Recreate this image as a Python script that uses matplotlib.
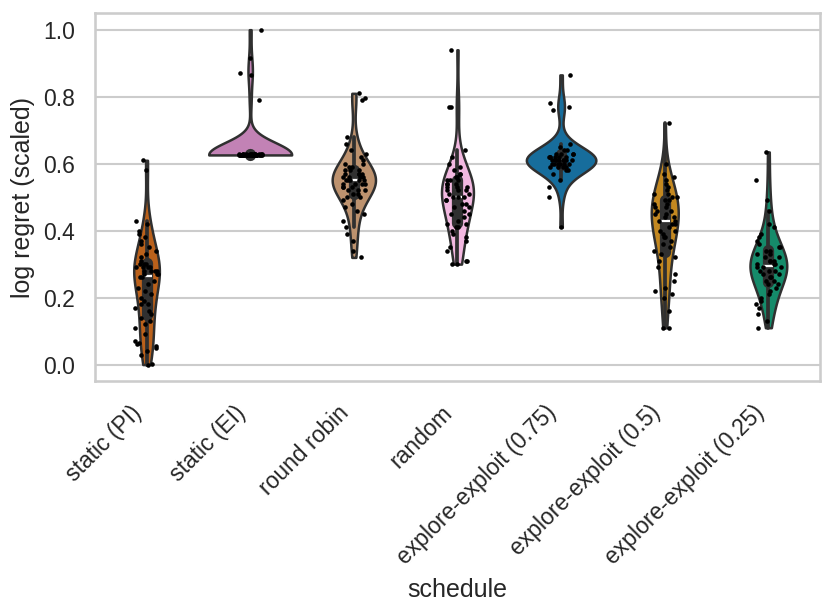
import numpy as np
import pandas as pd
import matplotlib
matplotlib.use("Agg")
import matplotlib.pyplot as plt
import seaborn as sns

# log regret (scaled) per schedule
static_pi = [0.0, 0.003, 0.03, 0.04, 0.05, 0.055, 0.06, 0.065, 0.07, 0.09, 0.11, 0.12, 0.13, 0.14,
             0.15, 0.16, 0.17, 0.18, 0.18, 0.19, 0.2, 0.21, 0.22, 0.23, 0.24, 0.25, 0.26, 0.26,
             0.27, 0.27, 0.27, 0.28, 0.28, 0.28, 0.28, 0.29, 0.29, 0.29, 0.29, 0.3, 0.3, 0.3,
             0.31, 0.32, 0.33, 0.34, 0.35, 0.36, 0.37, 0.38, 0.39, 0.4, 0.42, 0.43, 0.58, 0.61]
static_ei = [0.626, 0.627, 0.627, 0.628, 0.626, 0.627, 0.628, 0.627, 0.626, 0.627, 0.628, 0.627,
             0.627, 0.626, 0.628, 0.627, 0.627, 0.628, 0.626, 0.627, 0.627, 0.628, 0.627, 0.626,
             0.627, 0.628, 0.627, 0.627, 0.626, 0.628, 0.627, 0.627, 0.628, 0.626, 0.627, 0.627,
             0.628, 0.627, 0.626, 0.627, 0.628, 0.627, 0.627, 0.626, 0.628, 0.627, 0.627, 0.628,
             0.79, 0.865, 0.87, 0.915, 1.0]
round_robin = [0.32, 0.34, 0.37, 0.39, 0.41, 0.43, 0.45, 0.46, 0.47, 0.48, 0.49, 0.50, 0.50, 0.51,
               0.51, 0.52, 0.52, 0.52, 0.53, 0.53, 0.53, 0.54, 0.54, 0.54, 0.54, 0.55, 0.55, 0.55,
               0.55, 0.55, 0.56, 0.56, 0.56, 0.56, 0.57, 0.57, 0.57, 0.57, 0.58, 0.58, 0.58, 0.59,
               0.59, 0.60, 0.60, 0.61, 0.62, 0.63, 0.64, 0.66, 0.68, 0.79, 0.795, 0.81]
random_sched = [0.30, 0.30, 0.31, 0.31, 0.34, 0.35, 0.37, 0.38, 0.39, 0.40, 0.41, 0.41, 0.42, 0.42,
                0.43, 0.44, 0.45, 0.45, 0.46, 0.47, 0.47, 0.48, 0.48, 0.49, 0.49, 0.50, 0.50, 0.50,
                0.51, 0.51, 0.52, 0.52, 0.52, 0.53, 0.53, 0.53, 0.54, 0.54, 0.54, 0.55, 0.55, 0.55,
                0.56, 0.56, 0.57, 0.57, 0.58, 0.59, 0.60, 0.62, 0.64, 0.77, 0.77, 0.94]
ee_075 = [0.41, 0.50, 0.53, 0.55, 0.57, 0.58, 0.58, 0.59, 0.59, 0.59, 0.59, 0.60, 0.60, 0.60,
          0.60, 0.60, 0.60, 0.61, 0.61, 0.61, 0.61, 0.61, 0.61, 0.61, 0.61, 0.62, 0.62, 0.62,
          0.62, 0.62, 0.62, 0.63, 0.63, 0.63, 0.63, 0.64, 0.64, 0.65, 0.66, 0.76, 0.77, 0.78,
          0.865]
ee_05 = [0.11, 0.11, 0.16, 0.20, 0.21, 0.22, 0.23, 0.25, 0.27, 0.29, 0.31, 0.32, 0.33, 0.34,
         0.35, 0.36, 0.37, 0.38, 0.38, 0.39, 0.40, 0.40, 0.41, 0.42, 0.42, 0.43, 0.43, 0.44,
         0.44, 0.45, 0.45, 0.46, 0.46, 0.47, 0.47, 0.48, 0.48, 0.49, 0.49, 0.50, 0.50, 0.51,
         0.51, 0.52, 0.53, 0.54, 0.55, 0.56, 0.57, 0.60, 0.72]
ee_025 = [0.11, 0.13, 0.15, 0.17, 0.18, 0.19, 0.20, 0.21, 0.22, 0.23, 0.24, 0.24, 0.25,
          0.25, 0.26, 0.26, 0.27, 0.27, 0.28, 0.28, 0.28, 0.29, 0.29, 0.29, 0.30, 0.30, 0.30,
          0.31, 0.31, 0.31, 0.32, 0.32, 0.33, 0.33, 0.34, 0.34, 0.35, 0.35, 0.36, 0.37, 0.38,
          0.39, 0.41, 0.42, 0.46, 0.49, 0.55, 0.635]

schedules = ["static (PI)", "static (EI)", "round robin", "random",
             "explore-exploit (0.75)", "explore-exploit (0.5)", "explore-exploit (0.25)"]
values = [static_pi, static_ei, round_robin, random_sched, ee_075, ee_05, ee_025]
colors = ["#D55E00", "#CC78BC", "#CA9161", "#FBAFE4", "#0173B2", "#DE8F05", "#029E73"]

df = pd.DataFrame({
    "schedule": np.repeat(schedules, [len(v) for v in values]),
    "log regret (scaled)": np.concatenate(values),
})

sns.set_theme(style="whitegrid")
plt.rcParams["font.family"] = ["Liberation Sans", "DejaVu Sans"]

fig, ax = plt.subplots(figsize=(831 / 150, 616 / 150), dpi=150)
sns.violinplot(data=df, x="schedule", y="log regret (scaled)", order=schedules,
               hue="schedule", hue_order=schedules, palette=colors, cut=0,
               density_norm="area", common_norm=True, linewidth=1.2,
               legend=False, ax=ax)
np.random.seed(3)
sns.stripplot(data=df, x="schedule", y="log regret (scaled)", order=schedules,
              color="black", size=2.2, jitter=0.12, ax=ax)
plt.setp(ax.get_xticklabels(), rotation=45, ha="right")
fig.subplots_adjust(left=0.114, right=0.987, top=0.979, bottom=0.381)
fig.savefig("out.png", dpi=150)
